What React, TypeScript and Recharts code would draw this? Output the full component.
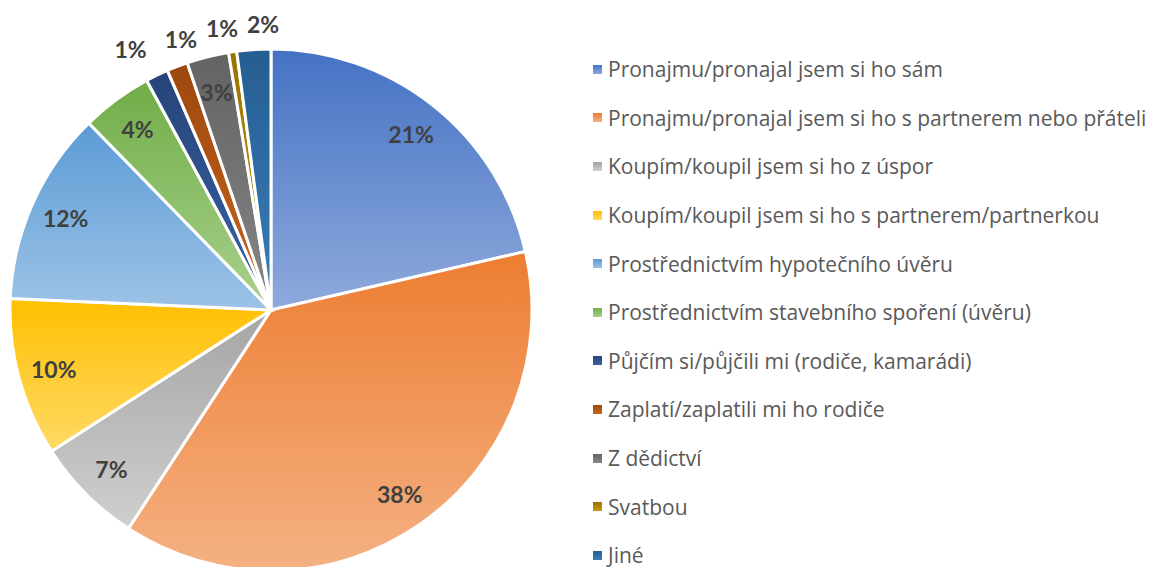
import type { ReactElement } from 'react';
import { Legend, Pie, PieChart, Cell } from 'recharts';

const categories = [
  'Pronajmu/pronajal jsem si ho sám',
  'Pronajmu/pronajal jsem si ho s partnerem nebo přáteli',
  'Koupím/koupil jsem si ho z úspor',
  'Koupím/koupil jsem si ho s partnerem/partnerkou',
  'Prostřednictvím hypotečního úvěru',
  'Prostřednictvím stavebního spoření (úvěru)',
  'Půjčím si/půjčili mi (rodiče, kamarádi)',
  'Zaplatí/zaplatili mi ho rodiče',
  'Z dědictví',
  'Svatbou',
  'Jiné',
];

const shares = [21.4, 37.8, 6.7, 9.8, 12.0, 4.4, 1.4, 1.3, 2.6, 0.5, 2.1];

// dark (top) and light (bottom) stop of each slice gradient
const darkColors = [
  '#4472C4', '#ED7D31', '#A5A5A5', '#FFC000', '#5B9BD5', '#70AD47',
  '#264478', '#9E480E', '#636363', '#997300', '#255E91',
];
const lightColors = [
  '#8FAADC', '#F4B183', '#CFCFCF', '#FFD966', '#9DC3E6', '#A9D18E',
  '#3A62A8', '#C8651F', '#868686', '#C89A10', '#3A7DB8',
];

// outside labels are pushed apart a little so they don't collide (degrees)
const labelNudge = [0, 0, 0, 0, 0, 0, -2.4, 2.7, 0, -1.4, 2.2];

const data = categories.map((name, i) => ({ name, value: shares[i] }));

const RAD = Math.PI / 180;
const TEXT = '#404040';
const FONT = 'Lato, "Noto Sans", sans-serif';

interface LabelProps {
  cx: number;
  cy: number;
  midAngle: number;
  outerRadius: number;
  value: number;
  index: number;
}

function SliceLabel({ cx, cy, midAngle, outerRadius, value, index }: LabelProps): ReactElement {
  const outside = value < 2.5 && index !== 8;
  const r = outside ? outerRadius + (index === 6 ? 35 : 25) : outerRadius * 0.862;
  const angle = midAngle - labelNudge[index];
  const x = cx + r * Math.cos(-angle * RAD);
  const y = cy + r * Math.sin(-angle * RAD);
  return (
    <text
      x={x}
      y={y}
      fill={TEXT}
      textAnchor="middle"
      dominantBaseline="central"
      fontFamily={FONT}
      fontWeight={700}
      fontSize={23}
    >
      {`${Math.round(value)}%`}
    </text>
  );
}

function LegendList(): ReactElement {
  return (
    <div style={{ fontFamily: '"Open Sans", sans-serif', fontSize: 21, color: '#595959' }}>
      {categories.map((name, i) => (
        <div key={name} style={{ display: 'flex', alignItems: 'center', height: 48.6 }}>
          <span
            style={{
              display: 'inline-block',
              width: 9,
              height: 9,
              marginRight: 6,
              background: `linear-gradient(${darkColors[i]}, ${lightColors[i]})`,
            }}
          />
          <span>{name}</span>
        </div>
      ))}
    </div>
  );
}

export default function App(): ReactElement {
  return (
    <div style={{ position: 'absolute', left: 0, top: 0, width: 1153, height: 567, background: '#fff' }}>
      <PieChart width={1153} height={567} margin={{ top: 0, right: 0, bottom: 0, left: 0 }}>
        <defs>
          {darkColors.map((c, i) => (
            <linearGradient key={c} id={`slice-${i}`} x1="0" y1="0" x2="0" y2="1">
              <stop offset="0%" stopColor={c} />
              <stop offset="100%" stopColor={lightColors[i]} />
            </linearGradient>
          ))}
        </defs>
        <Pie
          data={data}
          dataKey="value"
          nameKey="name"
          cx={271}
          cy={310}
          outerRadius={261}
          startAngle={90}
          endAngle={-270}
          stroke="#fff"
          strokeWidth={3}
          label={SliceLabel}
          labelLine={false}
          isAnimationActive={false}
        >
          {data.map((d, i) => (
            <Cell key={d.name} fill={`url(#slice-${i})`} />
          ))}
        </Pie>
        <Legend
          layout="vertical"
          align="right"
          verticalAlign="top"
          content={() => <LegendList />}
          wrapperStyle={{ left: 593, top: 45, width: 560 }}
        />
      </PieChart>
    </div>
  );
}
